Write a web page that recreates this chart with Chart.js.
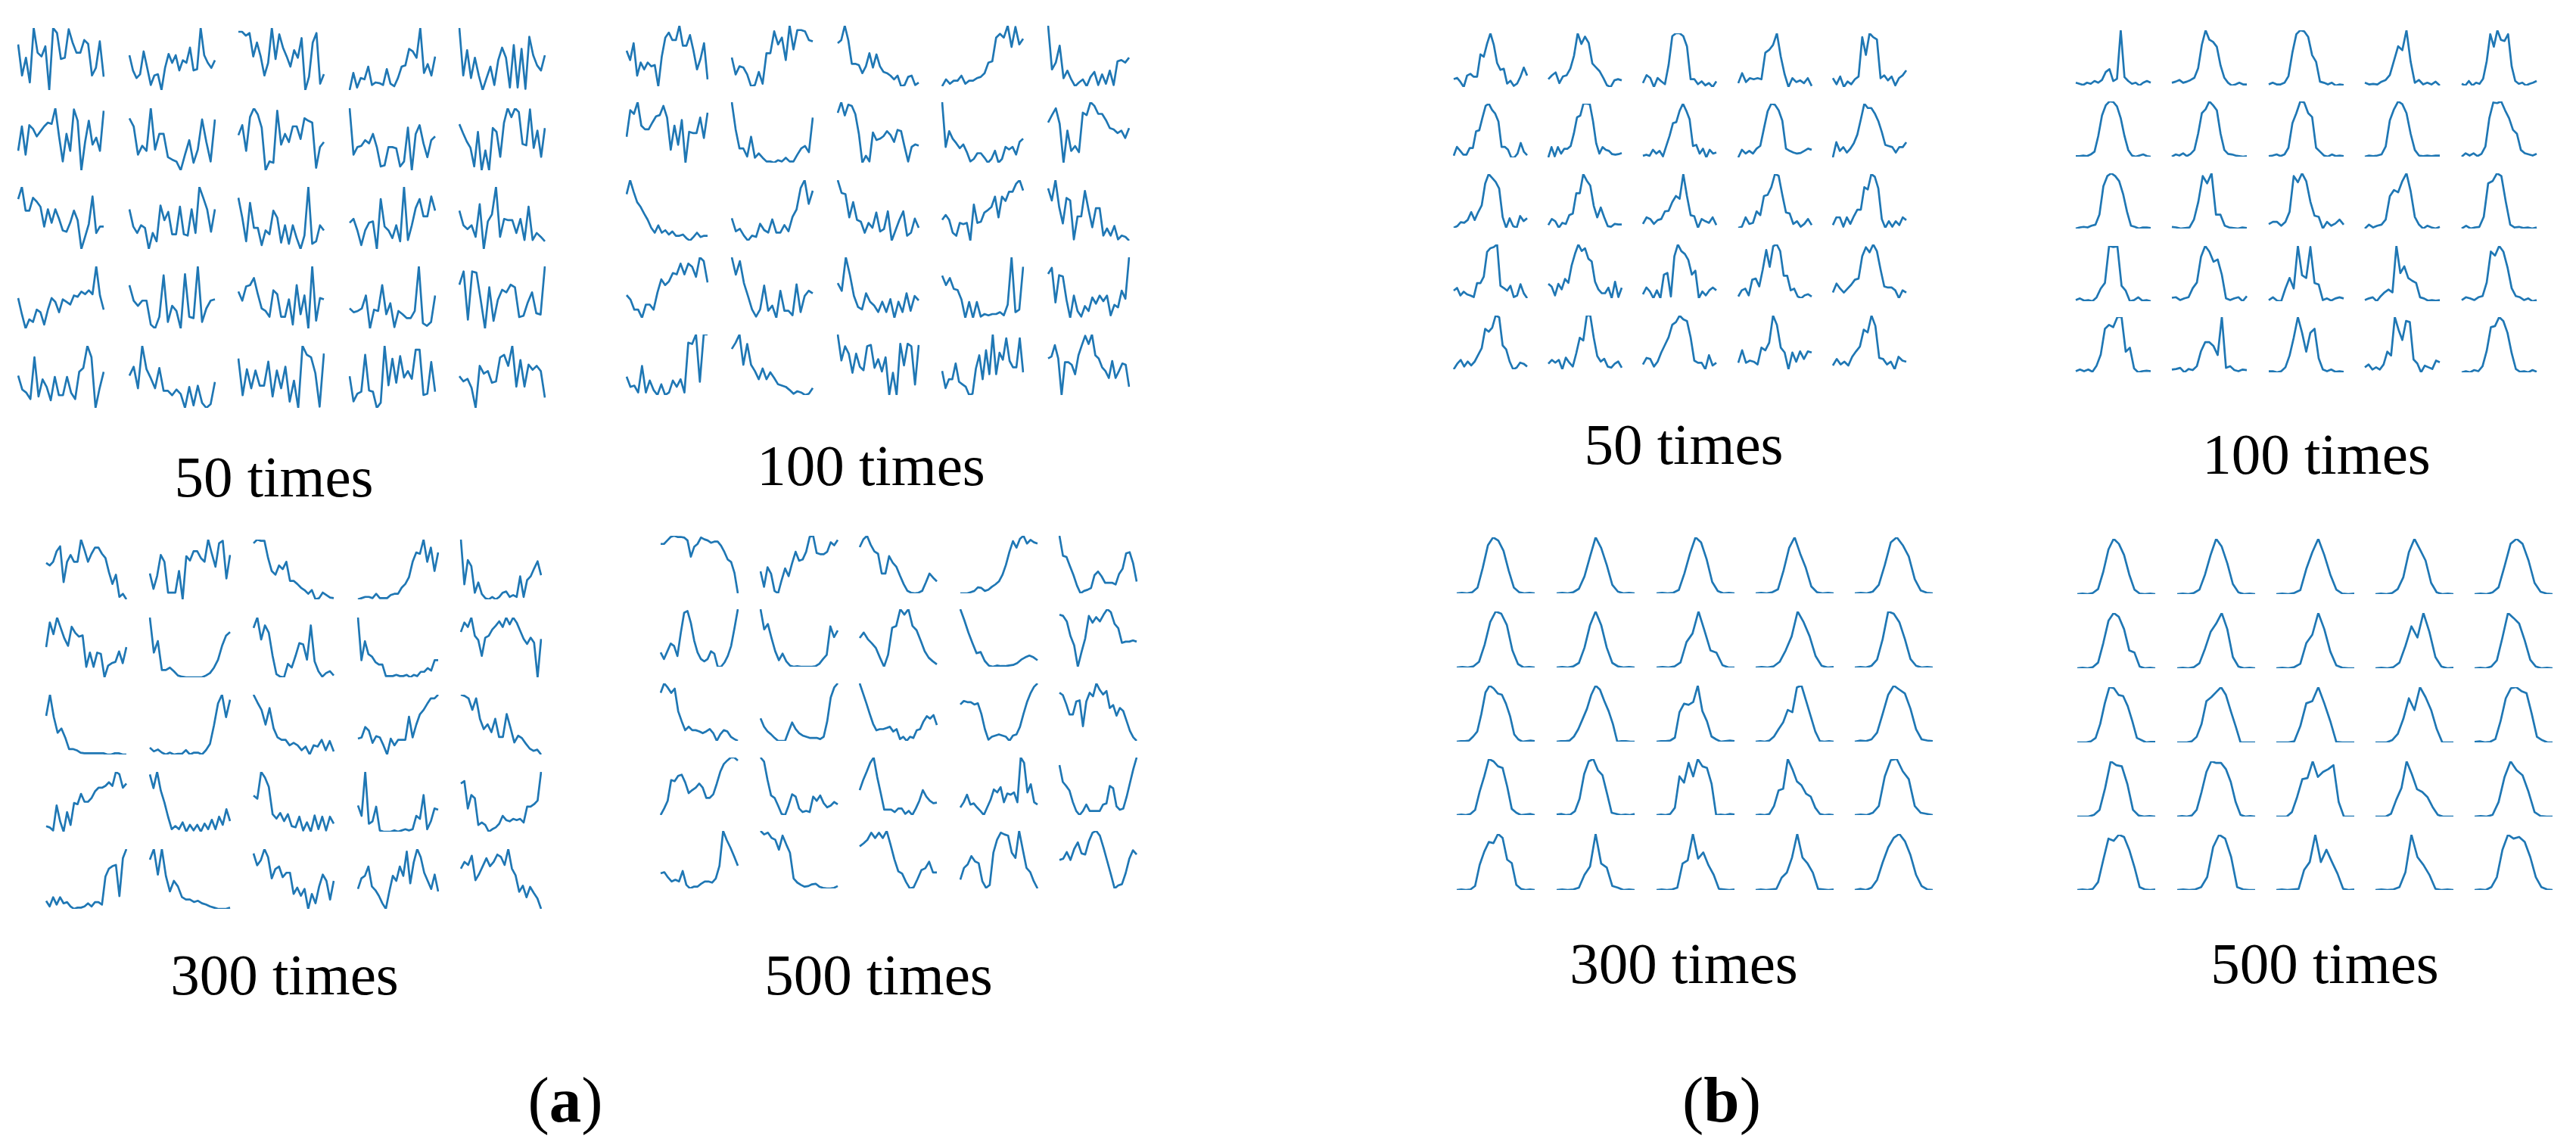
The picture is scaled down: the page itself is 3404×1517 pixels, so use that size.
<!DOCTYPE html>
<html>
<head>
<meta charset="utf-8">
<script src="https://cdn.jsdelivr.net/npm/chart.js@4.4.0/dist/chart.umd.min.js"></script>
<style>
  html, body { margin: 0; padding: 0; background: #fff; }
  #page { position: relative; width: 3404px; height: 1517px; overflow: hidden; background: #fff; }
  .lbl { position: absolute; font-family: "Liberation Serif", "Times New Roman", serif; color: #000;
         white-space: nowrap; line-height: 1; transform: translateX(-50%); }
  canvas { position: absolute; }
</style>
</head>
<body>
<div id="page"></div>
<script>
// Each panel: 25 sparklines, row-major (5 rows x 5 cols). (0..10 per cell).
const a50 = [
  [7.3,2.4,5.2,1.3,9.9,6.0,5.4,7.0,0.1,9.9,9.1,5.0,5.2,9.7,7.6,6.0,6.0,8.0,7.4,2.4,3.6,7.8,2.2],
  [5.6,3.2,2.0,2.6,6.2,3.6,0.9,2.4,2.6,0.1,3.6,5.8,4.4,5.6,3.2,4.8,4.4,6.8,3.2,3.4,9.9,5.6,4.4,3.6,4.8],
  [9.3,9.3,8.7,9.1,5.4,7.6,5.4,2.4,4.4,9.9,5.0,8.9,6.8,5.4,3.8,6.4,5.2,8.3,0.1,2.2,7.6,9.1,1.1,2.6],
  [0.1,2.8,0.5,2.0,1.8,3.8,0.9,1.3,1.2,0.9,3.4,1.1,0.7,2.0,3.8,4.0,6.6,6.2,5.2,9.9,2.8,4.2,2.4,5.4],
  [9.9,2.4,6.4,2.0,5.2,2.4,0.1,2.0,3.8,0.9,4.8,6.8,5.2,0.5,7.2,0.5,6.6,0.3,8.5,5.6,4.0,3.2,5.6],
  [3.1,7.0,2.5,7.2,6.6,5.4,6.2,7.0,7.6,7.4,9.9,5.4,1.4,5.8,3.1,9.7,7.9,0,4.5,7.9,4.1,5.2,3.1,9.5],
  [8.3,7.0,2.5,3.9,3.1,9.9,3.3,5.8,5.8,2.1,1.7,1.4,0,2.5,4.8,1.2,3.3,8.1,4.5,1.4,8.1],
  [5.6,7.2,3.1,8.5,9.9,8.9,6.8,0,1.4,1.2,9.5,4.1,5.8,4.5,7.0,7.0,5.0,8.3,7.9,7.6,0.4,3.7,4.5],
  [9.9,2.5,3.7,3.9,4.8,4.3,5.8,3.7,0.6,0.8,3.7,3.7,3.5,0.6,1.4,6.8,0,5.8,7.2,4.3,2.1,4.8,5.4],
  [7.2,5.8,4.5,3.5,0.6,6.0,0,3.1,0,6.6,6.0,2.1,7.4,9.7,8.3,9.7,9.1,4.1,3.9,9.5,3.5,6.2,2.1,6.6],
  [8.0,9.9,6.2,6.2,8.2,7.6,6.8,3.7,6.4,4.3,6.4,4.9,3.1,2.9,4.3,6.2,4.7,0.2,2.1,4.1,8.4,2.7,3.7,3.7],
  [6.4,3.7,2.7,3.9,3.5,0.2,2.7,1.4,7.0,4.7,6.0,2.5,2.5,6.8,2.5,2.3,6.4,2.7,9.9,8.2,6.4,2.9,6.4],
  [8.2,5.1,1.4,7.4,3.5,3.5,0.8,3.1,2.5,6.2,5.1,1.2,3.9,1.0,3.9,1.9,0.2,2.3,9.9,1.0,1.4,3.9,3.1],
  [4.3,4.9,3.1,0.8,3.1,4.3,4.5,0.2,8.0,3.7,3.1,1.9,3.9,1.4,9.9,1.6,3.9,6.6,8.0,5.3,5.3,8.4,6.2],
  [6.2,3.9,3.3,3.9,2.1,7.2,0.2,4.5,5.6,9.9,2.1,4.9,4.7,4.7,2.7,4.9,1.6,6.8,1.6,2.7,2.1,1.4],
  [4.9,2.4,0.2,1.6,1.2,3.1,2.7,0.8,3.1,4.9,4.3,2.7,4.7,4.3,3.9,5.3,5.1,5.9,5.5,6.1,5.5,9.8,5.3,3.1],
  [6.9,4.5,3.7,4.5,4.5,0.8,0.2,2.0,8.4,1.2,3.7,2.9,0.2,8.6,2.0,1.8,9.8,1.2,3.3,4.5,4.7],
  [5.9,4.5,6.7,6.9,8.0,5.5,3.3,2.9,2.0,6.1,5.5,2.0,2.0,4.7,0.8,6.9,2.4,5.3,0.2,9.8,1.4,4.9,4.7],
  [3.3,2.7,2.9,3.3,5.3,0.2,3.1,2.9,6.9,2.4,4.1,0.4,2.9,2.4,1.8,1.8,2.9,9.8,1.0,0.6,1.2,5.3],
  [6.9,9.0,1.4,9.0,8.8,4.5,0,6.5,1.2,4.5,6.1,5.7,6.9,6.5,1.8,2.0,4.1,5.7,2.4,2.2,9.8],
  [5.1,2.9,2.4,1.4,8.0,1.8,4.5,3.3,1.2,4.9,2.0,2.0,4.9,2.4,1.4,5.7,6.3,9.8,8.0,0,3.1,5.7],
  [5.3,6.7,3.3,10,6.3,4.9,3.3,6.5,2.9,2.9,2.2,3.1,2.4,0.2,3.5,0.6,3.7,1.0,0.2,0.8,4.3],
  [7.8,2.0,6.1,3.1,5.9,3.5,3.5,7.3,1.8,5.9,3.1,6.5,1.0,4.3,0,9.8,8.4,8.0,5.5,0.2,8.6],
  [5.1,1.2,2.4,2.7,8.4,2.9,2.7,0.2,1.0,9.8,3.7,7.8,4.1,8.2,4.9,5.9,4.7,9.2,9.2,2.2,2.4,7.3,2.7],
  [5.1,4.3,4.7,3.3,0.2,6.7,5.5,5.9,4.1,4.3,8.0,8.4,6.7,9.8,3.5,7.6,3.5,6.9,6.1,6.7,5.9,1.8]
];

const a100 = [
  [5.9,4.4,7.1,1.9,4.0,2.9,4.0,3.4,3.6,0.2,5.0,8.0,8.8,7.6,7.6,9.9,6.7,6.7,8.4,5.9,2.9,4.6,7.1,1.3],
  [4.8,2.1,3.4,3.2,2.1,0.2,0.4,2.5,0.6,5.5,5.5,9.0,6.9,8.0,4.4,9.9,6.1,9.2,9.2,9.0,7.6,7.4],
  [7.1,7.6,9.9,7.6,3.8,3.8,3.6,2.3,3.4,5.5,3.2,5.3,3.4,2.5,2.3,1.9,1.3,1.9,0.2,0.4,1.7,1.9,0.4,0.8],
  [0.2,1.3,0.6,1.1,1.1,1.9,0.6,1.1,1.1,1.5,1.7,2.3,4.0,4.2,8.0,8.6,8.0,9.9,6.5,9.7,6.9,7.8],
  [9.9,2.9,4.0,6.7,1.5,2.7,1.3,0.2,0.8,1.3,0.2,1.7,2.5,0.4,2.1,0.6,2.7,0.4,4.2,4.4,4.0,4.8],
  [4.2,8.5,7.9,9.8,6.0,5.4,5.4,6.5,7.5,7.7,9.2,7.3,2.1,6.0,2.9,6.9,0,5.0,4.8,4.8,7.3,4.0,8.1],
  [9.8,5.4,2.3,2.3,1.0,4.2,0.8,1.5,0.8,0.2,0.2,0,0.4,0.2,0.8,0.2,0.2,1.3,2.3,2.7,1.7,7.3],
  [8.1,9.8,7.7,9.4,9.2,7.9,4.8,0.2,1.3,0.4,5.0,3.8,4.0,4.4,5.2,4.6,3.5,5.4,5.2,2.7,0.4,2.7,3.1,2.9],
  [9.8,2.7,5.2,4.0,3.3,2.5,3.1,1.9,0.4,0.8,1.7,1.7,1.0,0.2,0.8,2.1,0.2,0.8,2.7,2.3,2.7,1.5,3.5,4.0],
  [6.5,7.7,8.8,6.3,0,5.2,1.9,2.7,1.7,8.1,7.7,9.8,9.2,7.9,7.9,6.9,5.6,5.4,4.8,5.2,4.0,5.6],
  [7.7,10,8.1,6.4,5.6,4.5,3.5,2.2,1.4,2.6,1.4,1.8,1.1,1.6,0.9,0.9,1.1,0.5,0.1,0.7,1.4,0.7,0.9,0.9],
  [3.7,1.6,2.0,0.9,0.1,0.9,0.7,2.8,1.8,1.4,3.5,1.4,1.4,2.6,1.6,3.9,5.1,8.5,9.8,6.0,8.1],
  [10,7.9,7.7,3.9,6.4,3.5,3.2,1.4,3.0,2.2,4.7,1.6,2.0,4.9,0.1,1.8,3.5,4.9,0.9,1.4,3.7,2.2],
  [3.5,4.3,3.5,1.4,0.9,3.0,2.8,3.0,0.1,6.0,3.0,3.2,4.7,5.1,5.6,7.3,3.9,7.3,6.6,8.1,8.1,9.4,10,8.3],
  [8.5,6.6,9.8,5.6,3.0,7.0,6.6,0.5,4.1,4.1,8.1,5.1,2.4,5.4,5.4,1.1,2.2,1.1,2.6,0.5,1.1,0.9,0.3],
  [3.8,3.1,1.5,1.5,0.2,2.3,2.3,1.5,4.2,6.3,5.4,6.0,7.3,7.1,8.8,7.1,8.8,8.3,6.7,9.8,9.2,5.8],
  [9.8,7.1,9.2,5.8,3.8,1.7,0.6,1.7,5.4,1.5,2.3,0.4,4.6,1.5,1.5,0.8,5.6,1.3,3.8,4.6,4.2],
  [5.8,4.6,9.8,7.1,3.8,2.1,1.7,4.2,2.9,2.3,1.3,2.9,1.3,3.3,0.4,2.9,1.3,4.2,1.5,3.8,3.1],
  [7.1,5.6,6.7,5.0,4.8,3.3,0.4,2.9,0.4,2.9,0.6,1.0,0.8,1.0,1.0,1.3,0.8,2.5,10,1.3,1.7,8.5],
  [7.3,8.3,2.7,7.1,6.9,3.1,0.2,3.8,1.3,0.4,2.1,1.3,3.5,2.5,3.8,2.9,3.8,0.6,2.3,1.9,4.6,3.3,10],
  [3.1,1.5,1.7,0.6,4.8,0.6,2.5,1.0,0.2,1.9,0.2,0.6,2.5,1.5,2.7,0.6,8.5,8.3,9.8,2.3,9.8,9.8],
  [7.5,8.5,9.8,5.0,8.3,5.0,4.0,2.7,4.4,2.7,3.8,2.9,1.9,1.7,1.5,1.0,0.4,0.8,0.6,0.2,0.4,1.3],
  [10,5.8,8.1,6.9,3.8,6.9,4.8,4.2,8.1,8.3,4.6,6.0,4.0,6.3,0.2,3.8,0.2,8.5,5.0,8.5,8.1,1.9,8.3],
  [4.0,1.3,2.7,2.7,5.2,2.3,1.9,1.5,0.2,0.4,4.4,6.5,2.7,7.3,3.5,9.8,3.5,6.9,5.8,9.2,5.6,4.6,4.6,9.2,3.8],
  [6.0,6.3,8.1,6.0,0.2,5.4,5.4,5.0,3.5,6.5,8.1,9.6,8.3,9.8,6.5,6.0,4.6,4.0,2.9,5.6,2.9,4.0,5.2,5.0,1.5]
];

const a300 = [
  [6.0,5.6,6.2,7.9,8.7,2.9,6.2,7.3,6.2,6.2,9.8,8.1,6.2,7.5,8.5,8.5,7.5,6.8,4.5,2.6,4.1,0.5,1.0,0.1],
  [4.3,1.8,3.9,7.3,6.2,1.2,1.2,1.2,4.7,0.1,7.1,6.4,7.9,7.9,6.8,6.2,9.8,7.5,5.4,9.2,9.6,3.5,7.3],
  [9.2,9.8,9.6,9.6,6.8,4.7,4.1,5.6,5.0,6.2,3.1,3.1,2.6,2.0,1.6,1.0,1.6,0.1,0.3,1.2,0.8,0.4,0.3],
  [0.1,0.3,0.5,0.5,0.3,1.0,0.3,0.3,0.3,0.8,1.0,1.0,2.0,2.6,3.7,6.2,7.7,7.5,9.8,6.2,8.5,4.7,7.7],
  [10,2.6,6.6,5.6,1.2,2.9,1.0,0.3,0.1,0.5,0.1,0.5,1.2,1.4,0.5,0.8,0.5,3.9,0.5,3.3,3.9,5.2,6.4,4.1],
  [5.1,9.1,7.2,9.9,8.2,6.5,5.3,8.4,7.4,6.8,7.0,1.9,4.2,1.9,4.2,4.0,0.2,2.1,2.5,2.7,4.4,2.5,5.1],
  [10,4.2,6.1,1.3,1.3,1.7,1.1,0.4,0.2,0.1,0.1,0.1,0.1,0.1,0.4,0.8,1.7,3.0,5.3,7.0,7.6],
  [8.2,9.9,6.3,8.6,7.4,3.6,0.6,0.2,0.1,2.3,1.7,3.6,5.7,5.5,3.0,8.6,2.7,1.1,0.2,0.8,1.1,0.4],
  [10,3.0,6.1,4.0,3.6,2.7,2.3,2.3,0.4,0.4,0.4,0.6,0.4,0.4,0.6,0.2,0.6,0.4,1.1,1.1,1.7,1.3,3.0,3.0],
  [7.4,8.9,8.2,9.7,6.8,6.1,3.6,6.5,6.8,7.8,8.4,9.1,8.2,9.7,8.6,9.7,8.9,7.6,6.3,5.5,6.5,5.7,0.2,6.3],
  [6.5,10,6.3,3.7,4.4,2.9,1.0,1.0,0.8,0.4,0.3,0.3,0.3,0.3,0.3,0.3,0.1,0.1,0.3,0.3,0.1,0.1],
  [1.4,0.8,1.1,0.6,0.3,0.6,0.3,0.4,0.4,1.0,0.3,0.6,0.6,0.3,1.0,2.0,5.0,8.5,9.9,6.3,9.1],
  [9.9,8.6,7.4,5.0,7.7,4.4,2.9,2.5,2.5,1.6,2.0,1.6,0.8,1.4,0.1,1.6,1.4,2.5,0.8,2.3,0.6],
  [2.7,2.9,4.6,4.0,2.0,3.1,2.9,1.6,0.1,2.7,1.6,2.5,2.5,2.5,6.3,2.9,5.0,6.7,7.4,8.4,9.3,9.3,9.9],
  [9.9,9.7,9.3,7.4,9.3,5.9,4.2,5.0,3.7,5.9,2.9,2.9,6.7,4.4,2.0,3.1,2.7,1.8,1.0,0.6,0.8,0],
  [1.1,0.9,0.4,4.5,1.9,0.2,3.4,1.3,4.9,4.7,6.4,5.1,5.1,5.7,6.8,7.4,7.4,7.7,8.3,7.7,10,9.6,7.4,8.1],
  [9.4,7.2,9.8,6.8,4.9,2.6,0.6,1.1,0.6,1.7,0.2,1.3,0.4,1.3,0.2,1.5,0.6,2.1,0.6,2.6,1.3,3.8,1.9],
  [6.0,5.5,9.8,8.9,7.4,3.0,2.3,3.2,1.9,3.0,1.1,0.9,2.6,0.4,1.7,0.2,2.8,0.6,2.6,0.4,2.6,1.5],
  [4.5,2.8,10,1.5,1.9,4.3,0.4,0.2,0.2,0.2,0.4,0.2,0.4,0.6,0.4,0.6,2.8,2.3,6.2,0.6,1.9,4.0,3.8],
  [8.1,8.5,4.0,6.2,5.7,1.3,1.7,1.3,0.2,0.6,0.9,1.5,2.8,2.1,1.9,2.3,2.1,2.3,1.7,4.3,4.3,4.7,5.3,10],
  [1.5,0.6,2.1,0.9,2.1,1.1,1.3,0.6,0.2,0.4,0.4,0.6,1.1,0.6,1.3,1.3,0.9,5.5,6.8,7.2,7.4,2.3,8.5,10],
  [8.1,9.8,5.7,9.8,5.5,3.0,4.7,3.8,2.1,1.7,1.7,1.3,1.5,1.1,0.9,0.6,0.4,0.2,0.2,0.2,0.4],
  [9.1,7.2,8.0,9.8,8.5,5.1,6.6,7.0,5.3,6.0,6.0,2.6,3.6,2.3,3.4,0.2,2.6,1.1,3.8,5.7,4.7,1.7,4.7],
  [3.4,5.1,5.5,7.0,3.8,3.2,2.3,1.1,0.2,3.0,5.5,4.7,7.0,5.5,9.4,4.3,7.7,9.8,8.5,6.0,4.7,3.4,5.7,3.0],
  [6.6,7.7,7.2,8.7,4.7,5.7,7.0,8.3,7.0,7.7,8.9,8.5,7.2,9.8,6.6,5.5,2.8,3.8,1.9,3.6,2.6,1.7,0]
];

const a500 = [
  [8.5,8.5,9.1,9.7,9.9,9.7,9.7,9.6,9.1,6.3,8.0,8.5,9.6,9.3,9.1,8.7,8.9,8.9,8.2,7.1,5.8,5.4,3.5,0],
  [3.8,1.2,4.5,3.4,0.5,0.1,2.3,4.3,3.0,5.2,7.1,5.6,5.8,7.1,9.6,9.8,6.9,6.7,6.7,7.1,8.7,8.2,9.1],
  [7.8,9.1,9.7,8.2,7.1,6.7,3.4,3.4,6.3,5.2,4.5,3.0,1.6,0.5,0.2,0.1,0.2,0.5,1.9,3.4,2.7,2.1],
  [0.1,0.1,0.1,0.3,0.5,1.1,1.0,0.5,0.7,1.2,1.6,2.1,3.2,4.9,7.1,8.9,7.8,9.3,9.8,8.5,9.1,8.7,8.5],
  [9.9,6.5,6.3,4.7,3.2,1.4,0.1,0.5,0.7,1.0,3.2,3.8,3.0,1.9,1.9,1.9,1.6,3.4,4.3,6.9,7.1,5.2,2.1],
  [2.6,1.5,2.8,4.1,3.7,2.0,5.9,9.3,9.6,7.6,4.6,2.6,1.5,1.1,1.5,2.8,2.4,0.2,0.2,0.9,2.0,3.7,6.7,9.9],
  [9.9,6.5,7.4,5.0,2.8,1.3,2.4,1.1,0.4,0.2,0.3,0.2,0.2,0.2,0.2,0.3,0.7,1.5,2.2,7.0,5.2,6.3],
  [5.0,5.9,4.8,4.1,3.3,1.7,0.2,2.2,6.7,7.0,9.8,8.9,9.8,7.0,6.3,4.6,2.8,1.7,1.1,0.6],
  [9.9,8.0,5.9,4.1,2.4,2.6,1.1,0.3,0.1,0.3,0.2,0.2,0.3,0.4,0.7,1.3,1.7,2.0,1.7,1.2],
  [8.7,8.5,7.6,5.2,3.7,0.2,2.6,4.8,8.5,7.4,8.3,7.6,8.7,9.6,9.1,7.2,6.5,4.1,4.3,4.3,4.5,4.3],
  [8.2,9.8,9.1,8.2,8.9,5.1,3.4,1.9,2.5,1.9,1.9,1.7,1.4,1.7,2.1,1.4,0.1,1.2,1.9,1.7,0.8,0.4,0.1],
  [3.9,2.5,1.7,1.2,0.6,0.1,0.1,0.1,1.7,3.2,2.1,1.4,1.0,0.8,0.6,0.6,0.6,0.4,0.8,3.4,7.4,9.1,9.8],
  [9.9,8.2,6.5,4.7,3.0,1.9,2.1,2.1,2.3,2.5,1.7,2.1,0.4,0.8,0.1,0.8,0.6,1.9,2.1,3.4,4.3,3.9,4.5,2.8],
  [6.3,6.9,6.7,6.7,6.3,6.5,4.7,2.1,0.3,0.8,1.0,1.2,1.0,0.8,0.1,1.0,1.2,2.5,4.7,6.7,8.2,9.3,9.9],
  [8.2,7.8,6.3,4.5,4.5,6.7,6.9,2.5,6.7,8.2,7.6,9.8,8.7,7.9,8.5,5.6,6.1,4.3,5.6,5.1,3.4,1.7,0.6,0],
  [0.2,1.3,2.6,6.1,5.9,6.8,7.0,5.7,3.9,4.4,4.8,5.5,4.8,3.1,3.1,3.7,5.5,7.5,8.8,9.4,9.9,9.9,9.4],
  [9.9,9.2,6.1,3.5,3.1,1.8,0.4,0.2,1.8,3.7,3.3,1.3,0.7,0.9,0.7,3.3,2.6,3.5,2.2,1.5,1.8,2.4,2.0],
  [4.4,6.1,7.5,9.0,9.9,6.6,3.9,1.1,1.1,1.1,0.7,1.3,1.3,0.4,0.9,0.2,1.3,2.6,4.4,3.3,2.6,2.2,2.3],
  [1.3,2.2,3.5,1.8,2.0,1.3,0.7,0,1.3,2.6,4.4,3.9,4.8,2.2,3.7,3.5,3.9,2.2,9.9,9.0,3.9,5.3,2.2,1.8],
  [8.6,5.7,5.0,4.2,2.2,0.7,0,0.7,1.8,0.7,0.7,0.7,0.7,1.8,2.0,5.0,4.6,1.5,0.9,1.1,3.1,5.5,7.9,9.9],
  [2.7,2.9,2.0,1.3,1.6,1.3,3.1,0.7,0.1,0.4,0.4,0.9,1.3,1.3,1.1,1.8,4.0,10,8.4,7.1,5.6,4.0],
  [9.9,9.3,9.6,8.7,8.4,6.7,9.1,7.6,6.2,1.8,1.1,0.7,0.4,0.5,0.8,0.9,0.4,0.2,0.1,0.1,0.2,0.5],
  [7.3,7.8,8.4,9.6,8.7,9.6,8.7,9.9,7.6,5.1,3.1,2.7,1.3,0.2,0.4,1.8,3.3,3.6,4.7,2.9,2.9],
  [1.6,3.6,4.2,5.6,4.7,4.4,1.3,0.2,0.7,6.2,8.4,9.6,9.3,9.1,6.2,5.3,9.9,6.7,3.6,2.9,1.3,0.1],
  [5.1,5.3,6.4,5.1,6.9,8.0,6.2,6.0,8.2,9.6,9.9,9.1,7.1,4.9,2.7,0.4,0.9,1.1,2.9,5.3,6.7,6.0]
];

const b50 = [
  [1.9,2.1,1.4,0.5,2.5,2.8,2.3,2.3,6.2,5.8,8.1,9.9,7.9,4.7,3.5,3.7,1.1,1.6,0.7,1.1,2.3,3.9,2.5],
  [1.6,2.3,2.8,0.9,2.1,2.3,3.5,5.8,9.8,7.9,9.2,8.1,4.4,3.7,3.0,1.8,0.5,0.2,1.4,1.6,1.4],
  [0.9,2.3,1.8,0.2,1.8,1.2,0.7,4.1,9.2,9.7,9.7,9.2,7.4,1.6,1.6,0.7,1.2,0.5,0.9,0.2,1.2],
  [0.7,2.5,0.9,1.6,1.4,1.6,1.4,6.2,6.7,7.6,9.7,5.5,2.3,0,1.6,0.9,1.2,0.7,1.6,0.2],
  [1.8,0.7,2.1,0.2,1.2,0.7,1.6,2.1,9.2,6.0,9.9,9.2,8.8,1.8,2.3,1.4,2.1,0.5,1.8,2.3,3.2],
  [0.5,2.1,1.4,0.7,0.7,1.9,1.9,4.9,5.1,7.4,9.5,9.9,8.8,8.1,6.7,2.1,2.1,1.6,0.2,0.2,0.9,2.8,1.2,0.6],
  [0,1.9,0.2,1.9,0.7,1.6,1.6,2.1,4.4,7.4,7.7,9.9,9.9,9.8,6.7,2.6,0.7,1.9,1.4,1.2,0.6,0.5,0.6,0.8],
  [0.3,0.5,0.3,1.4,0.7,1.2,0.2,2.1,4.0,6.3,6.5,8.6,9.9,8.6,7.0,2.1,2.3,0.7,1.6,0,1.4,0.7,0.9],
  [0,1.4,0.7,1.2,0.7,1.6,2.1,5.3,8.4,9.8,9.6,8.6,6.7,1.6,1.2,0.9,0.7,0.8,1.2,1.6,1.4],
  [0,2.8,1.2,1.9,0.9,1.6,2.6,4.2,7.0,9.9,9.1,9.1,8.1,6.7,4.7,2.3,2.1,1.9,0.9,1.9,1.9,2.8],
  [0.2,0.5,1.2,1.1,1.6,3.0,1.6,3.0,4.2,8.1,9.8,9.1,8.4,7.2,2.1,0.2,1.9,0.5,0.2,2.3,1.4,1.9],
  [0.5,1.6,1.2,0,0.9,0.7,2.3,2.6,6.3,6.3,9.8,8.6,7.7,4.0,1.9,3.7,1.9,0.3,0.2,0.7,0.6,0.6],
  [0.7,1.9,1.6,0.7,1.4,1.6,3.0,3.1,4.7,5.8,5.3,9.8,5.8,2.3,2.1,0,1.6,1.2,0.9,1.9,0.5],
  [0,0.2,1.9,0.7,0.9,3.0,2.3,5.8,6.0,7.4,9.8,9.5,6.0,2.8,2.6,0.7,1.2,0.2,0.7,1.6,0.5],
  [0.5,1.9,1.9,0.2,1.9,0.7,2.1,3.3,3.3,7.4,7.0,9.8,9.3,7.2,1.6,0,1.2,0.2,1.2,0.5,1.9,1.4],
  [1.4,1.9,0.5,1.2,0.7,0.5,0.2,2.8,2.8,4.0,8.6,9.3,9.5,10,2.3,1.9,1.4,2.3,0.2,0.5,2.6,0.9,0],
  [2.6,2.1,0.5,2.6,1.6,3.5,2.8,6.0,8.1,9.8,8.6,9.1,7.2,6.7,3.0,1.6,0.9,0.9,1.9,0,3.0,0.2,1.9],
  [0.9,2.1,1.4,0.2,1.6,0.2,4.4,4.7,0.5,7.7,9.8,8.6,8.1,7.0,4.4,5.1,0.2,1.4,0.7,1.6,2.1,1.6],
  [0.5,1.6,1.9,0.7,3.5,3.7,2.3,5.3,8.8,5.8,9.5,9.8,8.6,4.2,4.2,1.6,1.9,0.5,0.2,0.7,0.9,0.5],
  [1.2,2.8,1.9,1.2,1.9,2.6,3.5,3.7,7.7,9.3,8.4,9.8,8.6,5.3,2.3,2.1,2.1,1.6,0.2,1.6,1.2],
  [0.2,1.2,1.9,0.7,1.6,0.9,1.6,2.8,4.0,7.5,7.0,7.7,9.9,9.6,4.5,3.8,1.6,0.2,0.5,1.4,1.2,0.7],
  [1.2,1.9,1.4,1.9,0.2,2.3,1.4,0.7,3.1,5.9,5.4,9.9,9.9,5.9,2.6,1.6,2.1,0.7,0.5,1.2,1.6,0.5],
  [0.9,2.1,1.9,0.5,1.4,3.1,4.5,5.9,8.2,8.7,9.9,9.2,8.9,5.9,1.6,1.2,1.2,0,2.6,0.7,1.2],
  [1.2,3.5,1.2,1.6,1.4,0.9,4.0,3.5,4.9,9.9,8.2,4.0,3.1,0,3.1,1.4,3.3,1.9,3.3,3.1],
  [0.7,1.9,0.9,1.4,0.7,2.3,3.3,4.2,7.3,6.8,9.9,8.0,2.1,1.9,0.9,1.4,0,2.3,1.6,1.4]
];

const b100 = [
  [0.7,0.5,0.3,0.7,0.5,1.0,0.7,1.2,2.6,3.1,1.0,1.4,10,1.7,1.0,0.5,0.7,0.2,0.7,1.0,0.7],
  [0.5,0.7,1.0,0.5,0.7,1.0,1.4,3.1,7.4,10,8.3,7.9,7.0,3.6,1.4,0.5,0,0.2,0.5,0.2,0.2],
  [0.2,0.5,0.2,0.2,0.5,1.7,6.0,9.3,10,9.8,8.8,5.5,4.3,0.7,0.5,0.2,0.5,0,0.2,0.1],
  [0.5,0.2,0.3,0.2,0.7,1.0,1.9,4.5,7.1,6.4,10,4.3,0.5,1.0,0.2,0.5,0.2,0.7,0],
  [0.5,0.2,1.0,0.2,0.7,0.5,1.4,4.5,9.3,7.1,10,8.3,8.1,9.3,3.6,1.0,0.5,0.7,0.2,0.5,0.7,1.0],
  [0.1,0.1,0.2,0.1,0.4,0.9,3.7,7.4,9.2,9.9,9.8,9.0,6.9,3.7,1.2,0.2,0,0.2,0.4,0.1,0],
  [0,0.4,0.2,0.6,0.1,0.5,1.2,4.1,7.8,8.5,9.9,9.2,8.3,4.1,1.2,0.5,0.4,0.2,0.1,0,0.1],
  [0.1,0.2,0.4,0.1,0.4,1.6,6.0,7.8,9.9,9.7,7.8,7.1,1.6,0.9,0.2,0,0.4,0.1,0.2,0.1],
  [0,0.2,0.1,0.2,0.4,1.8,6.5,8.5,9.9,9.4,7.8,4.1,1.2,0.2,0.1,0.2,0.1,0.2,0.2],
  [0,0.6,0.2,0.6,0.1,0.5,1.8,6.9,9.7,9.6,9.9,8.3,6.9,4.8,4.1,1.2,0.6,0.4,0.2,0.5],
  [0,0.2,0.3,0.2,0.5,0.7,2.5,7.6,9.4,9.9,9.4,8.5,6.2,3.0,0.5,0.3,0,0.2,0.2,0.1],
  [0.3,0.2,0,0.1,0.2,1.6,4.8,9.4,8.1,9.9,2.5,2.5,0.5,0.2,0.1,0,0.2,0.1],
  [0.8,1.2,1.2,0.5,1.2,3.0,9.4,8.3,9.9,8.5,4.8,2.3,2.1,0,1.2,0.5,0.9,1.6,0.7],
  [0,0.7,0.2,0.5,0.7,1.6,5.8,6.9,6.5,8.5,9.9,6.7,2.1,0.7,0,0.5,0.2,0,0.3],
  [0,0.5,0,0.2,0.3,2.1,8.1,8.5,9.9,9.4,4.8,0.7,0.2,0.3,0.1,0.2,0,0.2],
  [0.2,0.5,0.1,0.2,0,0.7,2.3,3.3,10,9.8,9.9,2.8,1.9,0,0.2,0.7,0.1,0.2,0],
  [0.6,0.7,0.2,0.5,0.7,2.3,3.3,7.9,9.8,8.8,7.0,7.4,4.7,0.5,0.2,0.5,0.7,0,0.9],
  [0.2,0.7,0.1,0,2.3,4.2,2.3,10,4.7,4.2,9.8,3.3,3.0,0.2,0.5,0.1,0.5,0.7,0.5],
  [0.2,0.5,0.7,0,0.9,1.6,2.1,1.6,10,5.1,6.3,4.2,3.7,3.3,0.7,0.5,0.1,0.2,0.1,0.2],
  [0.2,0.7,0.5,0.2,0.7,0.9,3.3,8.8,8.1,9.8,8.8,6.0,2.3,0.9,0.7,0.2,0.5,0,0.2],
  [0.2,0.5,0.2,0.5,0.1,1.2,3.2,7.8,8.5,8.1,9.9,9.9,3.7,4.4,0.7,0,0.2,0.3,0.2],
  [0.6,0.7,0.9,0.1,0.7,0.5,1.2,3.9,5.5,5.5,4.8,3.2,10,0.9,1.2,0.5,0.3,0.6,0.5],
  [0.2,0.2,0,0.2,0.9,3.0,6.2,9.9,7.1,3.7,7.1,7.8,2.5,0.5,0.2,0.5,0.1,0.2,0.1],
  [0.9,1.4,0.5,0.9,0.5,1.4,3.7,3.0,9.9,7.6,5.8,9.2,9.0,2.3,1.6,0,1.2,0.9,0.6,2.1,1.8],
  [0.1,0.3,0.1,0.5,0.3,1.2,3.9,8.1,8.3,9.9,9.2,7.1,3.5,0.7,0.2,0.3,0.1,0.5,0.2]
];

const b300 = [
  [0,0.1,0,0.2,1.0,4.5,8.5,9.9,9.3,7.5,4.0,1.0,0.2,0,0.1,0],
  [0,0.1,0,0.2,0.8,3.0,6.5,9.9,8.0,5.0,1.5,0.3,0,0.1,0],
  [0,0.1,0,0.1,0.6,3.5,7.0,9.9,9.0,6.0,2.0,0.4,0,0.1,0],
  [0,0.1,0,0.2,0.7,4.0,8.0,9.9,7.0,4.5,1.2,0.2,0,0.1,0],
  [0,0.1,0,0.3,1.5,5.0,9.0,9.9,8.5,6.5,2.5,0.5,0.1,0],
  [0,0.1,0,0.2,1.0,4.0,8.0,9.9,9.5,7.5,3.0,0.6,0,0.1,0],
  [0,0.1,0,0.2,0.8,3.5,7.5,9.9,7.5,3.5,0.8,0.2,0,0.1,0],
  [0,0.1,0,0.2,0.9,4.5,6.0,9.9,6.5,3.0,2.6,0.4,0,0],
  [0,0.1,0,0.2,1.0,3.0,5.5,9.9,8.0,5.5,2.0,0.3,0,0.1],
  [0,0.1,0,0.3,1.4,5.0,9.9,9.5,8.0,5.0,1.5,0.3,0,0.1,0],
  [0,0.1,0.1,0.2,0.9,1.8,4.9,8.7,9.9,9.4,8.5,8.3,6.7,4.5,1.3,0.4,0,0.1,0.2,0.1],
  [0,0.1,0.1,0.2,0.9,2.2,4.0,5.8,8.3,9.9,9.2,7.2,5.4,3.1,0,0.1,0.1,0,0],
  [0,0.1,0.1,0.2,0.7,5.2,6.7,6.5,7.0,9.9,5.4,3.6,0.9,0.4,0,0.1,0.2,0.1],
  [0,0.1,0,0.2,0.9,2.2,3.4,5.6,5.2,9.6,9.9,7.2,4.5,1.8,0.1,0,0.1,0],
  [0,0.2,0.1,0.4,1.6,4.9,8.3,9.9,9.2,8.5,5.8,2.2,0.4,0.2,0.1],
  [0,0.1,0,0.2,0.9,4.2,6.9,10,9.6,8.7,8.4,5.1,1.1,0.4,0,0.1,0.2,0],
  [0.1,0.2,0,0.1,0.7,2.9,7.3,9.6,10,8.0,7.1,3.8,0.4,0.2,0,0.1,0,0.2],
  [0,0.1,0,0.2,1.3,6.9,5.8,9.3,6.9,10,8.7,8.4,5.6,0,0.1,0,0.2,0.1],
  [0,0.1,0,0.2,1.6,4.4,4.7,10,8.2,6.0,5.3,3.8,3.3,1.3,0.2,0,0.1,0],
  [0,0.1,0,0.4,1.6,6.9,9.8,10,7.8,6.4,1.6,0.4,0.2,0],
  [0,0.1,0,0.1,0.7,4.4,6.7,8.4,8.2,9.8,9.1,5.3,4.7,0.9,0.2,0,0.1,0],
  [0,0.1,0,0.1,0.4,2.7,4.2,10,4.7,4.0,0.7,0.4,0,0.1,0],
  [0,0.1,0,0.1,0.4,4.7,5.3,10,5.6,6.7,4.4,2.7,0.2,0.1,0,0.1],
  [0,0.1,0,0.1,0.2,2.2,3.1,5.8,10,5.8,4.7,3.1,0.2,0.1,0,0.1],
  [0,0.2,0,0.4,1.8,4.9,7.6,9.3,10,8.7,6.2,2.7,0.7,0.1,0]
];

const b500 = [
  [0,0.1,0,0.2,0.9,4.0,8.0,9.9,9.0,7.0,3.5,0.8,0.1,0,0.1,0],
  [0,0.1,0,0.2,0.8,3.5,7.0,9.9,8.5,5.5,1.8,0.3,0,0.1,0],
  [0,0.1,0,0.2,0.7,4.5,7.5,9.9,7.0,3.5,0.8,0.1,0,0.1],
  [0,0.1,0,0.2,0.9,3.0,7.5,9.9,8.0,6.0,2.0,0.3,0,0.1,0],
  [0,0.1,0,0.3,1.2,5.0,9.0,9.9,9.0,6.0,2.0,0.4,0.1,0],
  [0,0.1,0,0.2,1.0,4.5,8.5,9.9,9.2,7.0,3.2,2.8,0.3,0,0.1,0],
  [0,0.1,0,0.2,0.9,3.5,6.5,8.0,9.9,7.0,2.0,0.3,0,0.1,0],
  [0,0.1,0,0.2,0.8,4.5,6.0,9.9,7.0,3.0,0.5,0.1,0,0],
  [0,0.1,0,0.2,1.0,4.0,7.5,5.5,9.9,6.5,2.0,0.3,0,0.1],
  [0,0.1,0,0.3,1.4,5.5,9.9,9.0,8.0,5.0,1.5,0.3,0,0.1,0],
  [0,0,0,0.2,0.8,3.3,7.0,9.9,9.7,8.5,8.3,6.5,3.8,0.8,0.4,0,0.1,0.1],
  [0,0,0,0.2,1.0,3.3,7.4,8.1,9.0,9.9,8.5,5.6,2.9,0,0,0,0],
  [0,0,0,0.2,2.9,7.0,7.4,9.9,7.0,3.8,0.1,0,0,0],
  [0,0,0,0.4,1.5,4.2,7.9,5.8,9.9,8.1,5.8,2.4,0,0,0],
  [0.1,0.2,0,0.1,0.6,3.8,7.9,9.7,9.9,9.2,8.8,5.1,1.0,0.4,0,0],
  [0,0,0,0.3,1.2,5.1,9.9,9.2,9.0,5.8,1.2,0.2,0,0.1,0],
  [0,0.1,0,0.2,1.2,4.4,8.0,9.9,9.6,9.6,8.5,6.2,2.6,0.3,0,0.1,0],
  [0,0,0,0.8,3.5,6.7,6.9,9.9,7.1,8.0,8.5,9.2,2.6,0,0,0],
  [0,0,0,0.5,3.0,5.1,9.9,7.6,4.9,4.4,3.5,1.7,0.3,0,0,0],
  [0,0.1,0,0.3,2.6,7.1,9.9,8.3,7.4,4.4,0.8,0.1,0,0],
  [0,0.1,0,0.2,1.4,5.4,9.2,8.8,9.9,9.5,7.2,4.1,0.5,0.1,0,0.1],
  [0,0.1,0,0.1,0.5,2.3,7.7,9.9,9.2,5.9,0.5,0.1,0,0],
  [0,0.1,0,0.1,0.2,3.6,5.0,9.9,5.0,7.2,5.0,2.9,0.2,0,0.1],
  [0,0.1,0,0.1,0.5,3.2,9.9,5.9,4.5,2.7,0.2,0,0.1,0],
  [0,0.1,0,0.5,2.3,7.2,9.9,9.2,9.5,8.6,5.9,2.3,0.5,0.1,0]
];

const panelTitles = ['50 times', '100 times', '300 times', '500 times'];
const figureTags = ['a', 'b'];

// grid placement of each panel on the page (left edge of each column, top of each row)
const grids = [
  { data: a50,  cols: [24, 171, 315, 462, 607],       w: 113, rows: [37, 143, 247, 352, 457],      h: 82 },
  { data: a100, cols: [828, 967, 1107, 1245, 1385],   w: 107, rows: [34, 135, 238, 340, 442],      h: 80 },
  { data: a300, cols: [61, 198, 335, 473, 609],       w: 106, rows: [713, 816, 918, 1020, 1122],   h: 79 },
  { data: a500, cols: [873, 1005, 1136, 1269, 1400],  w: 102, rows: [708, 805, 903, 1001, 1098],   h: 76 },
  { data: b50,  cols: [1921, 2046, 2171, 2297, 2422], w: 97,  rows: [44, 137, 230, 323, 417],      h: 71 },
  { data: b100, cols: [2743, 2870, 2998, 3125, 3253], w: 99,  rows: [40, 134, 229, 325, 419],      h: 73 },
  { data: b300, cols: [1925, 2057, 2189, 2320, 2451], w: 103, rows: [710, 808, 906, 1003, 1102],   h: 74 },
  { data: b500, cols: [2745, 2877, 3008, 3139, 3270], w: 103, rows: [712, 810, 908, 1006, 1103],   h: 73 }
];

// title centre x and baseline y for each panel, same order as grids
const titlePos = [[362, 656], [1151, 641], [376, 1314], [1161, 1314],
                  [2225, 613], [3061, 626], [2225, 1299], [3072, 1299]];
const tagPos = [[747, 1482], [2275, 1482]];

const page = document.getElementById('page');
const PAD = 2;

function spark(vals, x, y, w, h) {
  const c = document.createElement('canvas');
  c.width = w + PAD * 2;
  c.height = h + PAD * 2;
  c.style.left = (x - PAD) + 'px';
  c.style.top = (y - PAD) + 'px';
  page.appendChild(c);
  new Chart(c, {
    type: 'line',
    data: {
      labels: vals.map((v, i) => i),
      datasets: [{
        data: vals,
        borderColor: '#1f77b4',
        borderWidth: 2.7,
        borderJoinStyle: 'round',
        pointRadius: 0,
        tension: 0,
        fill: false
      }]
    },
    options: {
      responsive: false,
      animation: false,
      devicePixelRatio: 1,
      events: [],
      layout: { padding: PAD },
      plugins: { legend: { display: false }, tooltip: { enabled: false } },
      scales: {
        x: { display: false },
        y: { display: false, min: Math.min(...vals), max: Math.max(...vals) }
      }
    }
  });
}

function text(str, cx, baseline, size) {
  const d = document.createElement('div');
  d.className = 'lbl';
  d.style.fontSize = size + 'px';
  d.style.left = cx + 'px';
  d.style.top = (baseline - 0.8375 * size) + 'px';
  d.innerHTML = str;
  page.appendChild(d);
}

grids.forEach((g, p) => {
  g.data.forEach((vals, k) => {
    const r = Math.floor(k / 5), col = k % 5;
    spark(vals, g.cols[col], g.rows[r], g.w, g.h);
  });
  text(panelTitles[p % 4], titlePos[p][0], titlePos[p][1], 77);
});

figureTags.forEach((t, i) => {
  text('(<b>' + t + '</b>)', tagPos[i][0], tagPos[i][1], 85);
});
</script>
</body>
</html>
